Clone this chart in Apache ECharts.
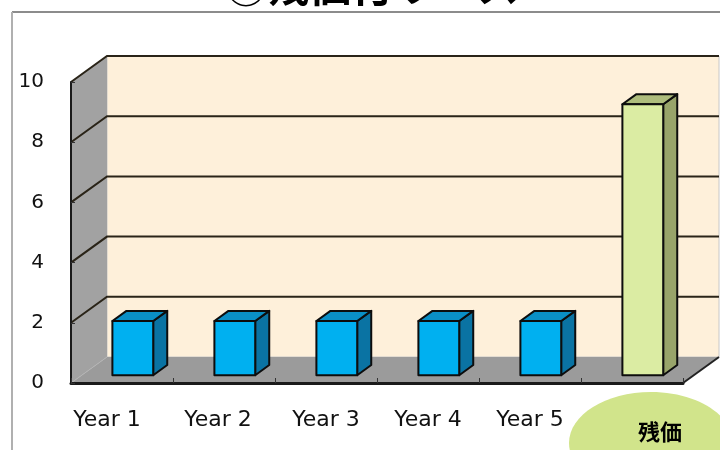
<!DOCTYPE html>
<html>
<head>
<meta charset="utf-8">
<script src="https://cdn.jsdelivr.net/npm/echarts@6/dist/echarts.min.js"></script>
<style>
  html, body { margin: 0; padding: 0; background: #ffffff; }
  #chart { width: 720px; height: 450px; }
</style>
</head>
<body>
<div id="chart"></div>
<script>
// Lease payments per year, with the residual value as the last column
const categories = ['Year 1', 'Year 2', 'Year 3', 'Year 4', 'Year 5', ''];
const payments = [1.8, 1.8, 1.8, 1.8, 1.8, 9];
const yTicks = [0, 2, 4, 6, 8, 10];
const titleText = '③残価付リース';
const badgeText = '残価';

// Perspective depth of the 3D box (pixel offset from front plane to back wall)
const DEPTH_X = 36, DEPTH_Y = -26;
const BAR_FRONT = 0.3, BAR_BACK = 0.69;

// Small horizontal nudges for the first category labels
const labelShift = [30, 12, 0, 0, 0, 0];

const palette = {
  normal: { front: '#00b0f0', side: '#0a73a3', top: '#0a8fc6' },
  residual: { front: '#dbeca3', side: '#98a46a', top: '#aebd7d' }
};

const chart = echarts.init(document.getElementById('chart'), null, { renderer: 'canvas' });

function renderWalls(params, api) {
  const cs = params.coordSys;
  const x0 = cs.x, x1 = cs.x + cs.width;
  const yBottom = api.coord([0, 0])[1];
  const yTop = api.coord([0, 10])[1];
  const children = [];
  // back wall
  children.push({ type: 'rect', shape: { x: x0 + DEPTH_X, y: yTop + DEPTH_Y, width: x1 - x0, height: yBottom - yTop },
    style: { fill: '#fef0da', stroke: '#c8c8c8', lineWidth: 1 } });
  // side wall
  children.push({ type: 'polygon', shape: { points: [[x0, yTop], [x0 + DEPTH_X, yTop + DEPTH_Y], [x0 + DEPTH_X, yBottom + DEPTH_Y], [x0, yBottom]] },
    style: { fill: '#a2a2a2' } });
  // floor
  children.push({ type: 'polygon', shape: { points: [[x0, yBottom], [x0 + DEPTH_X, yBottom + DEPTH_Y], [x1 + DEPTH_X, yBottom + DEPTH_Y], [x1, yBottom]] },
    style: { fill: '#9b9b9b' } });
  children.push({ type: 'line', shape: { x1: x0, y1: yBottom, x2: x0 + DEPTH_X, y2: yBottom + DEPTH_Y },
    style: { stroke: '#b4b4b4', lineWidth: 1 } });
  // gridlines on side wall and back wall
  yTicks.forEach(function (t) {
    if (t === 0) return;
    const y = api.coord([0, t])[1];
    children.push({ type: 'polyline', shape: { points: [[x0, y], [x0 + DEPTH_X, y + DEPTH_Y], [x1 + DEPTH_X, y + DEPTH_Y]] },
      style: { stroke: '#2a2418', lineWidth: 2, fill: null } });
  });
  // floor right edge
  children.push({ type: 'line', shape: { x1: x1, y1: yBottom, x2: x1 + DEPTH_X, y2: yBottom + DEPTH_Y },
    style: { stroke: '#222', lineWidth: 2 } });
  return { type: 'group', children: children };
}

function renderBox(params, api) {
  const idx = api.value(0);
  const v = api.value(1);
  const base = api.coord([idx, 0]);
  const top = api.coord([idx, v]);
  const band = api.size([1, 0])[0];
  const w = band * 0.4;
  const fx = DEPTH_X * BAR_FRONT, fy = DEPTH_Y * BAR_FRONT;
  const dx = DEPTH_X * (BAR_BACK - BAR_FRONT), dy = DEPTH_Y * (BAR_BACK - BAR_FRONT);
  const xl = base[0] - w / 2 + fx, xr = xl + w;
  const yb = base[1] + fy, yt = top[1] + fy;
  const c = idx === categories.length - 1 ? palette.residual : palette.normal;
  const edge = { stroke: '#0d0d0d', lineWidth: 2, lineJoin: 'round' };
  return {
    type: 'group',
    children: [
      { type: 'polygon', shape: { points: [[xr, yt], [xr + dx, yt + dy], [xr + dx, yb + dy], [xr, yb]] },
        style: Object.assign({ fill: c.side }, edge) },
      { type: 'polygon', shape: { points: [[xl, yt], [xr, yt], [xr + dx, yt + dy], [xl + dx, yt + dy]] },
        style: Object.assign({ fill: c.top }, edge) },
      { type: 'rect', shape: { x: xl, y: yt, width: w, height: yb - yt },
        style: Object.assign({ fill: c.front }, edge) }
    ]
  };
}

const option = {
  animation: false,
  backgroundColor: '#ffffff',
  grid: { left: 71, top: 82, width: 612, height: 301 },
  xAxis: {
    type: 'category',
    data: categories.map(function (c, i) {
      return labelShift[i] ? { value: c, textStyle: { padding: [0, labelShift[i], 0, 0] } } : c;
    }),
    z: 5,
    axisLine: { lineStyle: { color: '#1a1a1a', width: 3 } },
    axisTick: { show: true, inside: true, length: 5, lineStyle: { color: '#333', width: 1 } },
    axisLabel: { color: '#111', fontSize: 22, margin: 26, fontFamily: 'DejaVu Sans', interval: 0 },
    splitLine: { show: false }
  },
  yAxis: {
    type: 'value',
    min: 0, max: 10, interval: 2,
    z: 5,
    axisLine: { show: true, lineStyle: { color: '#1a1a1a', width: 2 } },
    axisTick: { show: true, inside: true, length: 4, lineStyle: { color: '#333', width: 1 } },
    axisLabel: { color: '#111', fontSize: 20, margin: 27, fontFamily: 'DejaVu Sans' },
    splitLine: { show: false }
  },
  series: [
    { type: 'custom', name: 'walls', z: 1, silent: true, renderItem: renderWalls, data: [[0, 0]] },
    { type: 'custom', name: 'payments', z: 6, renderItem: renderBox,
      data: payments.map(function (v, i) { return [i, v]; }) }
  ],
  graphic: [
    { type: 'line', shape: { x1: 12, y1: 12, x2: 720, y2: 12 }, style: { stroke: '#666', lineWidth: 1.5 }, z: 10 },
    { type: 'line', shape: { x1: 12, y1: 12, x2: 12, y2: 450 }, style: { stroke: '#b0b0b0', lineWidth: 2 }, z: 10 },
    { type: 'text', x: 372, y: 7, z: 10,
      style: { text: titleText, fill: '#000', font: 'bold 42px "Noto Sans CJK JP"', textAlign: 'center', textVerticalAlign: 'bottom' } },
    { type: 'ellipse', shape: { cx: 651, cy: 443, rx: 82, ry: 51 }, style: { fill: '#d1e48b' }, z: 20 },
    { type: 'text', x: 660, y: 432, z: 21,
      style: { text: badgeText, fill: '#000', font: 'bold 22px "Noto Sans CJK JP"', textAlign: 'center', textVerticalAlign: 'middle' } }
  ]
};

chart.setOption(option);
</script>
</body>
</html>
